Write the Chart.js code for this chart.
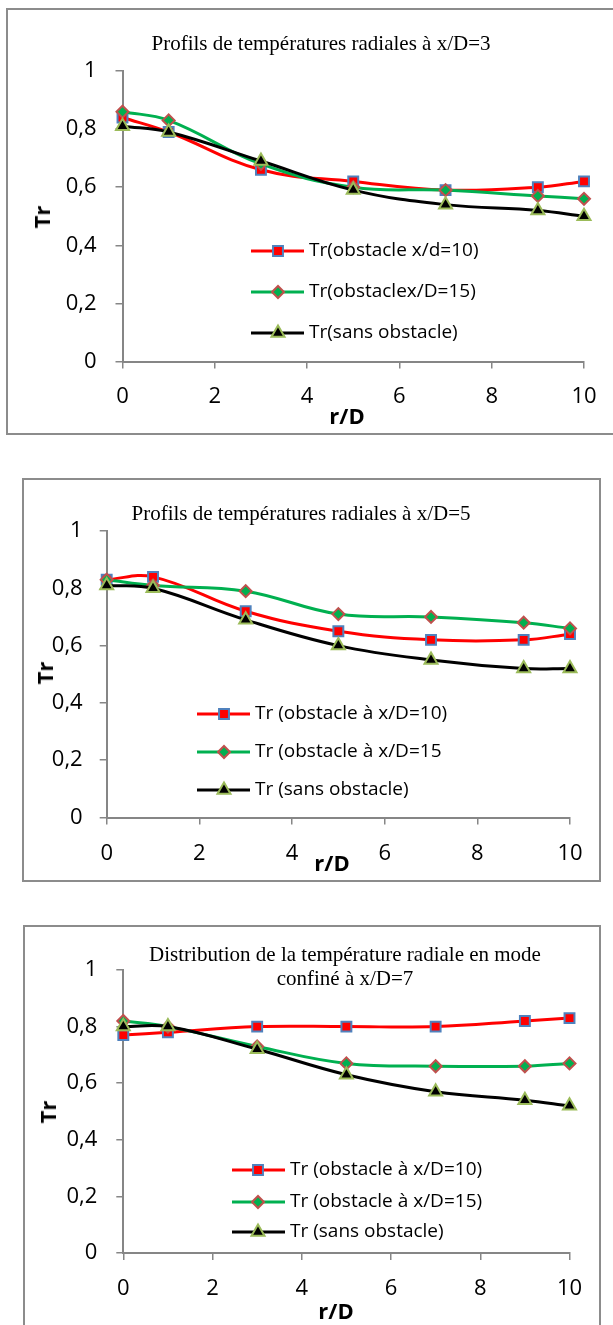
<!DOCTYPE html>
<html><head><meta charset="utf-8">
<script src="https://cdn.jsdelivr.net/npm/chart.js@4.4.1/dist/chart.umd.min.js"></script>
<style>
html,body{margin:0;padding:0;background:#fff;width:613px;height:1325px;overflow:hidden;position:relative;}
.frame{position:absolute;border:2px solid #8c8c8c;box-sizing:border-box;}
canvas{position:absolute;left:0;}
.title{position:absolute;font-family:"Liberation Serif","Times New Roman",serif;font-size:21px;color:#000;white-space:nowrap;transform:translate(-50%,-50%);text-align:center;line-height:24px;}
.ax{position:absolute;font-family:"Open Sans",sans-serif;font-weight:bold;font-size:22px;color:#000;white-space:nowrap;transform:translate(-50%,-50%);line-height:26px;}
.ax.rot{transform:translate(-50%,-50%) rotate(-90deg);}
</style></head><body>
<div class="frame" style="left:6px;top:8px;width:620px;height:427px;"></div>
<div class="frame" style="left:22px;top:478px;width:579px;height:404px;"></div>
<div class="frame" style="left:23px;top:925px;width:578px;height:420px;"></div>

<canvas id="c1" width="613" height="440" style="top:0px;width:613px;height:440px;"></canvas>
<canvas id="c2" width="613" height="420" style="top:470px;width:613px;height:420px;"></canvas>
<canvas id="c3" width="613" height="410" style="top:915px;width:613px;height:410px;"></canvas>

<div class="title" style="left:321px;top:43px;">Profils de températures radiales à x/D=3</div>
<div class="title" style="left:301px;top:513px;">Profils de températures radiales à x/D=5</div>
<div class="title" style="left:345px;top:966px;">Distribution de la température radiale en mode<br>confiné à x/D=7</div>

<div class="ax rot" style="left:41px;top:217px;">Tr</div>
<div class="ax rot" style="left:44px;top:673px;">Tr</div>
<div class="ax rot" style="left:47px;top:1112px;">Tr</div>
<div class="ax" style="left:347px;top:415px;">r/D</div>
<div class="ax" style="left:332px;top:862px;">r/D</div>
<div class="ax" style="left:336px;top:1310px;">r/D</div>

<script>
// ---- data ----
const rD = [0, 1, 3, 5, 7, 9, 10];
const xTickLabels = ['0', '2', '4', '6', '8', '10'];
const yTickLabels = ['0', '0,2', '0,4', '0,6', '0,8', '1'];

// chart 1 : x/D = 3
const c1Obstacle10 = [0.84, 0.79, 0.66, 0.62, 0.59, 0.60, 0.62];
const c1Obstacle15 = [0.86, 0.83, 0.68, 0.60, 0.59, 0.57, 0.56];
const c1Sans       = [0.81, 0.79, 0.69, 0.59, 0.54, 0.52, 0.50];
const c1Names = ['Tr(obstacle x/d=10)', 'Tr(obstaclex/D=15)', 'Tr(sans obstacle)'];

// chart 2 : x/D = 5
const c2Obstacle10 = [0.83, 0.84, 0.72, 0.65, 0.62, 0.62, 0.64];
const c2Obstacle15 = [0.83, 0.81, 0.79, 0.71, 0.70, 0.68, 0.66];
const c2Sans       = [0.81, 0.80, 0.69, 0.60, 0.55, 0.52, 0.52];
const c2Names = ['Tr (obstacle à x/D=10)', 'Tr (obstacle à x/D=15', 'Tr (sans obstacle)'];

// chart 3 : x/D = 7
const c3Obstacle10 = [0.77, 0.78, 0.80, 0.80, 0.80, 0.82, 0.83];
const c3Obstacle15 = [0.82, 0.80, 0.73, 0.67, 0.66, 0.66, 0.67];
const c3Sans       = [0.80, 0.80, 0.72, 0.63, 0.57, 0.54, 0.52];
const c3Names = ['Tr (obstacle à x/D=10)', 'Tr (obstacle à x/D=15)', 'Tr (sans obstacle)'];

// ---- styles ----
const seriesStyles = [
  {line:'#FF0000', fill:'#FF0000', border:'#4F81BD', style:'rect', radius:7, order:2},
  {line:'#00B050', fill:'#00B050', border:'#C0504D', style:'rectRot', radius:6, order:1},
  {line:'#000000', fill:'#000000', border:'#9BBB59', style:'triangle', radius:7.5, order:0}
];
const AXIS_COLOR = '#868686';
const TICK_FONT = {family:'"Open Sans", sans-serif', size:22};
const LEGEND_FONT = '19px "Open Sans", sans-serif';

const layouts = [
  {id:'c1', top:0,   height:440, plot:{l:122.5, r:584,   t:71,   b:361.5}, yPad:19, xPad:15,
   legend:{x1:251, x2:304, mx:278, tx:309, rows:[251, 292, 333]}},
  {id:'c2', top:470, height:420, plot:{l:106.7, r:570,   t:531,  b:817.5}, yPad:17, xPad:16,
   legend:{x1:197, x2:250, mx:224, tx:255, rows:[714, 752, 790]}},
  {id:'c3', top:915, height:410, plot:{l:123.3, r:569.5, t:970,  b:1253},  yPad:19, xPad:16,
   legend:{x1:232, x2:285, mx:258, tx:290, rows:[1170, 1202, 1232]}}
];

function drawMarker(ctx, st, x, y) {
  ctx.save();
  ctx.fillStyle = st.fill;
  ctx.strokeStyle = st.border;
  ctx.lineWidth = 2;
  if (Chart.helpers && Chart.helpers.drawPoint) {
    Chart.helpers.drawPoint(ctx, {pointStyle: st.style, radius: st.radius, rotation: 0, borderWidth: 2}, x, y);
  }
  ctx.restore();
}

const insideLegend = {
  id: 'insideLegend',
  afterDatasetsDraw(chart, args, opts) {
    const ctx = chart.ctx;
    const L = opts.layout;
    chart.data.datasets.forEach((ds, i) => {
      const st = seriesStyles[i];
      const y = L.rows[i] - opts.top;
      ctx.save();
      ctx.strokeStyle = st.line;
      ctx.lineWidth = 3;
      ctx.beginPath();
      ctx.moveTo(L.x1, y);
      ctx.lineTo(L.x2, y);
      ctx.stroke();
      ctx.restore();
      drawMarker(ctx, st, L.mx, y);
      ctx.save();
      ctx.fillStyle = '#000';
      ctx.font = LEGEND_FONT;
      ctx.textBaseline = 'middle';
      ctx.textAlign = 'left';
      ctx.fillText(ds.label, L.tx, y);
      ctx.restore();
    });
  }
};

function makeDataset(label, values, st) {
  return {
    label: label,
    data: rD.map((x, i) => ({x: x, y: values[i]})),
    borderColor: st.line,
    borderWidth: 3,
    backgroundColor: st.fill,
    pointBackgroundColor: st.fill,
    pointBorderColor: st.border,
    pointBorderWidth: 2,
    pointStyle: st.style,
    pointRadius: st.radius,
    pointHoverRadius: st.radius,
    tension: 0.4,
    fill: false,
    clip: false,
    order: st.order
  };
}

function buildChart(L, names, series) {
  const yW = 60, xH = 55;
  const padding = {
    left: L.plot.l - yW,
    right: 613 - L.plot.r,
    top: L.plot.t - L.top,
    bottom: L.height - (L.plot.b - L.top) - xH
  };
  return new Chart(document.getElementById(L.id), {
    type: 'line',
    data: {datasets: series.map((s, i) => makeDataset(names[i], s, seriesStyles[i]))},
    options: {
      responsive: false,
      animation: false,
      events: [],
      layout: {padding: padding},
      plugins: {
        legend: {display: false},
        tooltip: {enabled: false},
        title: {display: false},
        insideLegend: {layout: L.legend, top: L.top}
      },
      scales: {
        x: {
          type: 'linear', min: 0, max: 10,
          afterFit: s => { s.height = xH; },
          border: {display: true, color: AXIS_COLOR, width: 2},
          grid: {drawOnChartArea: false, drawTicks: true, tickLength: 7, color: AXIS_COLOR, lineWidth: 1.5},
          ticks: {stepSize: 2, color: '#000', font: TICK_FONT, padding: L.xPad, maxRotation: 0, autoSkip: false,
                  callback: (v, i) => xTickLabels[i]}
        },
        y: {
          type: 'linear', min: 0, max: 1,
          afterFit: s => { s.width = yW; },
          border: {display: true, color: AXIS_COLOR, width: 2},
          grid: {drawOnChartArea: false, drawTicks: true, tickLength: 7, color: AXIS_COLOR, lineWidth: 1.5},
          ticks: {stepSize: 0.2, color: '#000', font: TICK_FONT, padding: L.yPad, autoSkip: false,
                  callback: (v, i) => yTickLabels[i]}
        }
      }
    },
    plugins: [insideLegend]
  });
}

buildChart(layouts[0], c1Names, [c1Obstacle10, c1Obstacle15, c1Sans]);
buildChart(layouts[1], c2Names, [c2Obstacle10, c2Obstacle15, c2Sans]);
buildChart(layouts[2], c3Names, [c3Obstacle10, c3Obstacle15, c3Sans]);
</script>
</body></html>
